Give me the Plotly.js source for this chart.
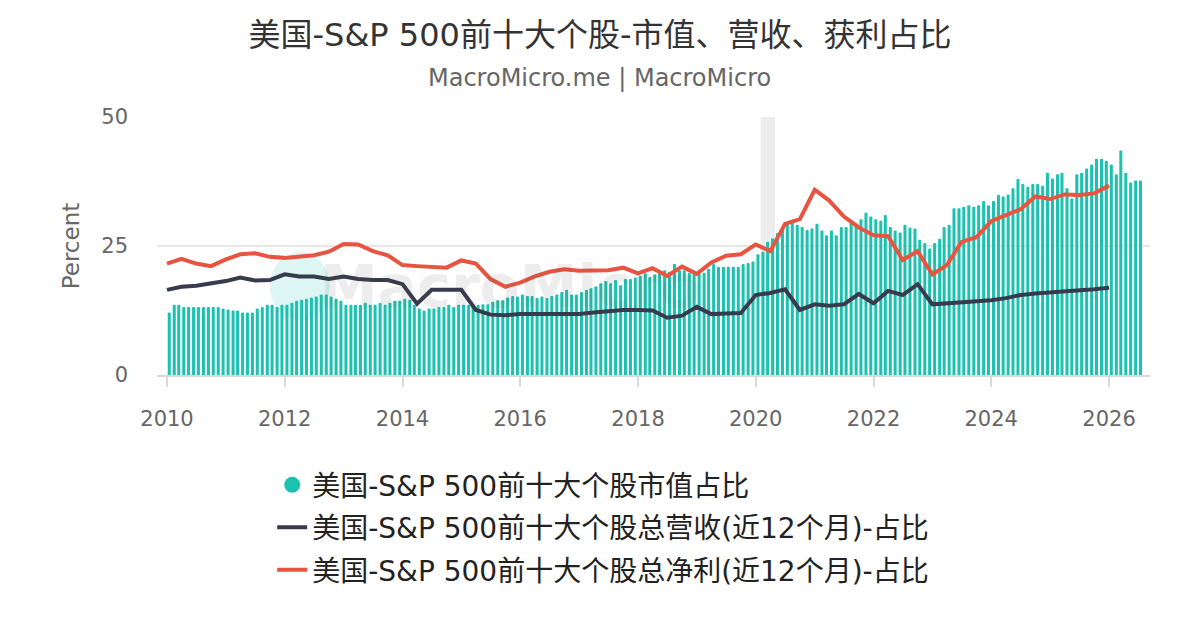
<!DOCTYPE html>
<html>
<head>
<meta charset="utf-8">
<script src="https://cdn.plot.ly/plotly-3.0.1.min.js"></script>
<style>
  html, body { margin: 0; padding: 0; background: #fff; }
  #chart { width: 1200px; height: 630px; }
</style>
</head>
<body>
<div id="chart"></div>
<script>
// monthly market cap share, Jan 2010 .. Jul 2026
var mcap2010 = [12.1, 13.6, 13.6, 13.2, 13.2, 13.2, 13.2, 13.2, 13.2, 13.2, 13.2, 12.9];
var mcap2011 = [12.7, 12.5, 12.5, 12.1, 12.1, 12.1, 12.9, 13.2, 13.6, 13.6, 13.2, 13.6];
var mcap2012 = [13.6, 14.0, 14.4, 14.6, 14.8, 15.0, 15.2, 15.6, 15.6, 15.2, 14.8, 14.4];
var mcap2013 = [13.6, 13.6, 13.6, 13.6, 14.0, 13.6, 13.6, 14.0, 13.6, 14.0, 14.4, 14.4];
var mcap2014 = [14.8, 14.6, 13.6, 12.9, 12.5, 12.9, 12.9, 13.2, 13.2, 13.6, 13.2, 13.6];
var mcap2015 = [13.6, 13.6, 13.6, 13.6, 13.7, 13.7, 14.2, 14.5, 14.5, 15.0, 15.3, 15.2];
var mcap2016 = [15.6, 15.3, 15.3, 14.9, 15.2, 14.9, 15.3, 15.6, 16.1, 16.5, 15.6, 15.6];
var mcap2017 = [16.1, 16.5, 16.8, 17.2, 17.8, 18.2, 17.8, 18.4, 17.4, 18.6, 18.6, 18.9];
var mcap2018 = [19.2, 19.7, 19.0, 19.5, 20.0, 20.3, 20.0, 21.5, 20.3, 20.3, 19.8, 19.8];
var mcap2019 = [20.0, 19.8, 20.6, 21.5, 21.0, 21.0, 21.0, 21.0, 21.0, 21.5, 21.7, 22.0];
var mcap2020 = [23.4, 23.9, 25.8, 26.5, 27.5, 28.4, 29.4, 29.7, 29.1, 28.7, 28.1, 28.4];
var mcap2021 = [29.3, 28.0, 27.1, 28.0, 27.1, 28.7, 28.7, 30.0, 29.4, 30.2, 31.5, 30.7];
var mcap2022 = [30.2, 29.9, 31.0, 28.7, 28.0, 27.6, 29.1, 28.6, 28.4, 26.2, 25.6, 24.5];
var mcap2023 = [25.6, 26.4, 28.7, 29.1, 32.3, 32.3, 32.6, 32.9, 32.6, 32.9, 33.7, 32.9];
var mcap2024 = [33.7, 34.9, 34.6, 35.0, 36.2, 38.0, 37.0, 36.5, 37.0, 37.0, 36.7, 39.2];
var mcap2025 = [38.1, 38.9, 39.2, 36.2, 34.2, 38.9, 39.2, 40.0, 40.8, 41.9, 41.9, 41.5];
var mcap2026 = [40.8, 38.9, 43.5, 39.2, 37.3, 37.7, 37.7];

// quarterly, Q1 2010 .. Q1 2026
var revenueShare = [
  16.5, 17.1, 17.3, 17.8,  18.2, 18.9, 18.3, 18.4,  19.5, 19.1, 19.1, 18.6,
  19.1, 18.6, 18.4, 18.4,  17.6, 13.8, 16.5, 16.5,  16.5, 12.6, 11.7, 11.6,
  11.8, 11.8, 11.8, 11.8,  11.8, 12.1, 12.4, 12.6,  12.6, 12.5, 11.1, 11.5,
  13.2, 11.8, 11.9, 12.0,  15.5, 15.9, 16.6, 12.6,  13.7, 13.4, 13.7, 15.7,
  13.9, 16.3, 15.5, 17.6,  13.7, 13.9, 14.1, 14.3,  14.5, 14.9, 15.5, 15.8,
  16.0, 16.1, 16.3, 16.6,  16.9
];
var earningsShare = [
  21.6, 22.5, 21.6, 21.1,  22.4, 23.4, 23.6, 22.9,  22.7, 23.0, 23.2, 23.9,
  25.4, 25.3, 24.0, 23.2,  21.3, 21.1, 21.0, 20.8,  22.2, 21.6, 18.6, 17.1,
  17.9, 19.1, 20.0, 20.5,  20.2, 20.2, 20.3, 20.8,  19.7, 20.7, 19.2, 21.0,
  19.6, 21.8, 23.1, 23.4,  25.3, 24.0, 29.3, 30.2,  35.9, 33.8, 30.7, 28.6,
  27.1, 26.9, 22.3, 24.0,  19.5, 21.3, 25.8, 26.7,  29.8, 31.0, 32.1, 34.6,
  34.1, 35.0, 34.9, 35.2,  36.7
];

var names = [
  '美国-S&P 500前十大个股市值占比',
  '美国-S&P 500前十大个股总营收(近12个月)-占比',
  '美国-S&P 500前十大个股总净利(近12个月)-占比'
];

var FONT = 'DejaVu Sans, Noto Sans CJK SC, sans-serif';

function pad(n){ return n < 10 ? '0' + n : '' + n; }

var mcap = [].concat(mcap2010, mcap2011, mcap2012, mcap2013, mcap2014, mcap2015,
  mcap2016, mcap2017, mcap2018, mcap2019, mcap2020, mcap2021, mcap2022,
  mcap2023, mcap2024, mcap2025, mcap2026);

var monthDates = mcap.map(function(v, i){
  var y = 2010 + Math.floor(i / 12), m = i % 12 + 1;
  return y + '-' + pad(m) + '-15';
});
var quarterDates = revenueShare.map(function(v, i){
  var y = 2010 + Math.floor(i / 4), m = (i % 4) * 3 + 1;
  return y + '-' + pad(m) + '-01';
});

var barTrace = {
  x: monthDates, y: mcap, type: 'bar', name: names[0],
  marker: { color: '#1cc2b0', cornerradius: '50%' },
  showlegend: false
};
// legend entry with a round marker
var barLegend = {
  x: [null], y: [null], type: 'scatter', mode: 'markers', name: names[0],
  legendgroup: 'a',
  marker: { color: '#1cc2b0', size: 22, symbol: 'circle' }
};
var revTrace = {
  x: quarterDates, y: revenueShare, type: 'scatter', mode: 'lines', name: names[1],
  legendgroup: 'b',
  line: { color: '#383b4d', width: 4 }
};
var earnTrace = {
  x: quarterDates, y: earningsShare, type: 'scatter', mode: 'lines', name: names[2],
  legendgroup: 'c',
  line: { color: '#e8543f', width: 4 }
};

var layout = {
  width: 1200, height: 630,
  margin: { l: 157, r: 50, t: 117, b: 255 },
  paper_bgcolor: '#fff', plot_bgcolor: '#fff',
  font: { family: FONT, color: '#666' },
  title: {
    text: '美国-S&P 500前十大个股-市值、营收、获利占比',
    font: { family: FONT, size: 32, color: '#333' },
    x: 0.5, xanchor: 'center', y: 0.944, yanchor: 'middle'
  },
  bargap: 0.33,
  xaxis: {
    type: 'date',
    range: ['2009-10-31', '2026-09-12'],
    tick0: '2010-01-01', dtick: 'M24', tickformat: '%Y',
    showgrid: false, zeroline: false,
    showline: true, linecolor: '#d9d9d9', linewidth: 2,
    ticks: 'outside', ticklen: 10, tickwidth: 2, tickcolor: '#d9d9d9',
    ticklabelstandoff: 14,
    tickfont: { family: FONT, size: 21, color: '#666' }
  },
  yaxis: {
    range: [0, 50], tick0: 0, dtick: 25,
    showgrid: true, gridcolor: '#e6e6e6', gridwidth: 2,
    zeroline: false, showline: false,
    ticks: '', ticklabelstandoff: 28,
    tickfont: { family: FONT, size: 21, color: '#666' },
    title: { text: 'Percent', font: { family: FONT, size: 23, color: '#666' }, standoff: 15 }
  },
  legend: {
    orientation: 'v', x: 0.116, xanchor: 'left', y: -0.33, yanchor: 'top',
    font: { family: FONT, size: 28, color: '#222' },
    traceorder: 'grouped', tracegroupgap: 3,
    itemsizing: 'trace'
  },
  shapes: [
    { type: 'rect', xref: 'x', yref: 'paper', x0: '2020-02-01', x1: '2020-04-30',
      y0: 0, y1: 1, fillcolor: 'rgba(0,0,0,0.07)', line: { width: 0 }, layer: 'below' },
    { type: 'circle', xref: 'x', yref: 'y', x0: '2011-10-01', x1: '2012-10-07',
      y0: 10.7, y1: 23.8, fillcolor: 'rgba(28,194,176,0.15)', line: { width: 0 }, layer: 'below' }
  ],
  annotations: [
    { text: 'MacroMicro.me | MacroMicro', xref: 'paper', yref: 'paper', x: 0.446, y: 1.151,
      xanchor: 'center', yanchor: 'middle', showarrow: false,
      font: { family: FONT, size: 24, color: '#666' } },
    { text: '<b>MacroMicro</b>', xref: 'x', yref: 'y', x: '2015-11-01', y: 17,
      xanchor: 'center', yanchor: 'middle', showarrow: false, opacity: 0.1,
      font: { family: FONT, size: 58, color: '#555' } }
  ]
};

var config = { displayModeBar: false, responsive: false };

var chartDiv = document.getElementById('chart');
if (chartDiv) {
  Plotly.newPlot('chart', [barTrace, barLegend, revTrace, earnTrace], layout, config);
}
</script>
</body>
</html>
